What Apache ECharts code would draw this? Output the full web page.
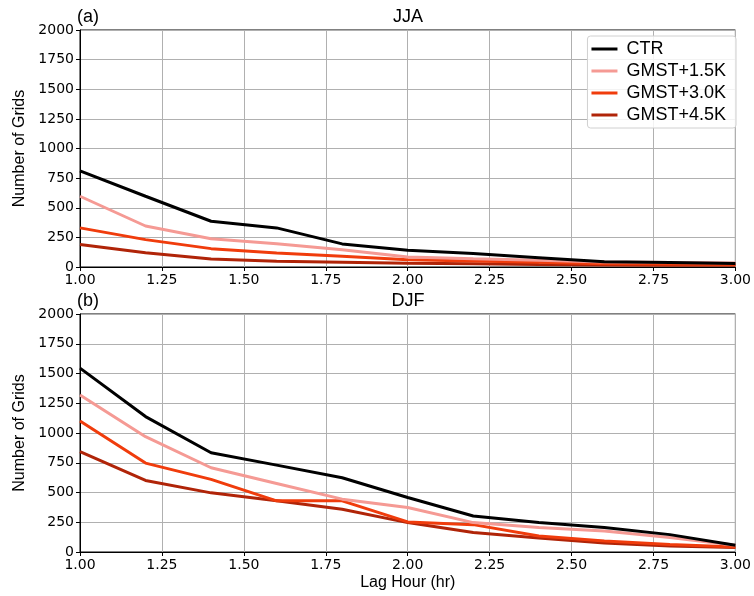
<!DOCTYPE html>
<html>
<head>
<meta charset="utf-8">
<script src="https://cdn.jsdelivr.net/npm/echarts@6/dist/echarts.min.js"></script>
<style>html,body{margin:0;padding:0;background:#fff}#c{width:754px;height:596px}</style>
</head>
<body>
<div id="c"></div>
<script>
const lagHours = [1.0, 1.2, 1.4, 1.6, 1.8, 2.0, 2.2, 2.4, 2.6, 2.8, 3.0];
const seriesNames = ['CTR', 'GMST+1.5K', 'GMST+3.0K', 'GMST+4.5K'];
const colors = ['#000000', '#f59a94', '#f03c0c', '#b02408'];
const jjaCTR  = [811, 597, 386, 330, 195, 141, 113, 79, 45, 39, 30];
const jja15   = [597, 346, 239, 197, 146, 85, 70, 56, 42, 37, 34];
const jja30   = [330, 231, 155, 118, 90, 62, 50, 40, 28, 25, 22];
const jja45   = [189, 121, 68, 48, 40, 31, 28, 22, 17, 14, 14];
const djfCTR  = [1545, 1138, 834, 730, 624, 458, 303, 247, 205, 146, 56];
const djf15   = [1320, 969, 708, 576, 444, 374, 247, 205, 177, 121, 56];
const djf30   = [1101, 747, 610, 430, 430, 253, 230, 135, 93, 62, 42];
const djf45   = [843, 601, 497, 430, 360, 247, 163, 118, 76, 51, 37];
const yTicks = [0, 250, 500, 750, 1000, 1250, 1500, 1750, 2000];
const xTicks = [1.00, 1.25, 1.50, 1.75, 2.00, 2.25, 2.50, 2.75, 3.00];

const chart = echarts.init(document.getElementById('c'), null, {renderer: 'canvas'});
const pair = arr => lagHours.map((x, i) => [x, arr[i]]);
const tickFont = {fontFamily: 'DejaVu Sans', fontSize: 14, color: '#000'};
const nameFont = {fontFamily: 'Liberation Sans', fontSize: 16, color: '#000'};

function xAxis(idx, withName) {
  return {
    type: 'value', gridIndex: idx, min: xTicks[0], max: xTicks[xTicks.length - 1], interval: 0.25,
    axisLine: {show: true, lineStyle: {color: '#000', width: 1}},
    axisTick: {show: true, length: 4, lineStyle: {color: '#000'}},
    axisLabel: Object.assign({margin: 6, formatter: v => v.toFixed(2)}, tickFont),
    splitLine: {show: true, lineStyle: {color: '#b0b0b0', width: 1}},
    name: withName ? 'Lag Hour (hr)' : '', nameLocation: 'middle', nameGap: 23,
    nameTextStyle: nameFont
  };
}
function yAxis(idx) {
  return {
    type: 'value', gridIndex: idx, min: yTicks[0], max: yTicks[yTicks.length - 1], interval: 250,
    axisLine: {show: true, lineStyle: {color: '#000', width: 1}},
    axisTick: {show: true, length: 4, lineStyle: {color: '#000'}},
    axisLabel: Object.assign({margin: 6, formatter: v => String(v)}, tickFont),
    splitLine: {show: true, lineStyle: {color: '#b0b0b0', width: 1}},
    name: 'Number of Grids', nameLocation: 'middle', nameGap: 51,
    nameTextStyle: nameFont
  };
}
const jja = [jjaCTR, jja15, jja30, jja45];
const djf = [djfCTR, djf15, djf30, djf45];
const series = [];
[jja, djf].forEach((set, g) => {
  set.forEach((arr, i) => {
    series.push({
      name: seriesNames[i], type: 'line', xAxisIndex: g, yAxisIndex: g,
      data: pair(arr), showSymbol: false, symbol: 'none',
      lineStyle: {color: colors[i], width: 3}, itemStyle: {color: colors[i]},
      z: 10 - i, animation: false
    });
  });
});
chart.setOption({
  animation: false,
  grid: [
    {left: 80, top: 30, right: 18, height: 237, show: true, borderColor: '#000', borderWidth: 1, backgroundColor: 'transparent'},
    {left: 80, top: 314, right: 18, height: 238, show: true, borderColor: '#000', borderWidth: 1, backgroundColor: 'transparent'}
  ],
  xAxis: [xAxis(0, false), xAxis(1, true)],
  yAxis: [yAxis(0), yAxis(1)],
  legend: {
    data: seriesNames, right: 18, top: 36, orient: 'vertical', icon: 'rect',
    itemWidth: 26, itemHeight: 3, itemGap: 4, padding: [4, 10, 4, 4],
    backgroundColor: 'rgba(255,255,255,0.85)', borderColor: '#d0d0d0', borderWidth: 1, borderRadius: 3,
    textStyle: {fontFamily: 'Liberation Sans', fontSize: 18, color: '#000', padding: [0, 0, 0, 4]}
  },
  graphic: [
    {type: 'text', left: 77, top: 8, style: {text: '(a)', font: '18px "Liberation Sans"', fill: '#000'}},
    {type: 'text', left: 77, top: 292, style: {text: '(b)', font: '18px "Liberation Sans"', fill: '#000'}},
    {type: 'text', x: 408, y: 8, style: {text: 'JJA', font: '18px "Liberation Sans"', fill: '#000', textAlign: 'center'}},
    {type: 'text', x: 408, y: 292, style: {text: 'DJF', font: '18px "Liberation Sans"', fill: '#000', textAlign: 'center'}}
  ],
  series: series
});
</script>
</body>
</html>
